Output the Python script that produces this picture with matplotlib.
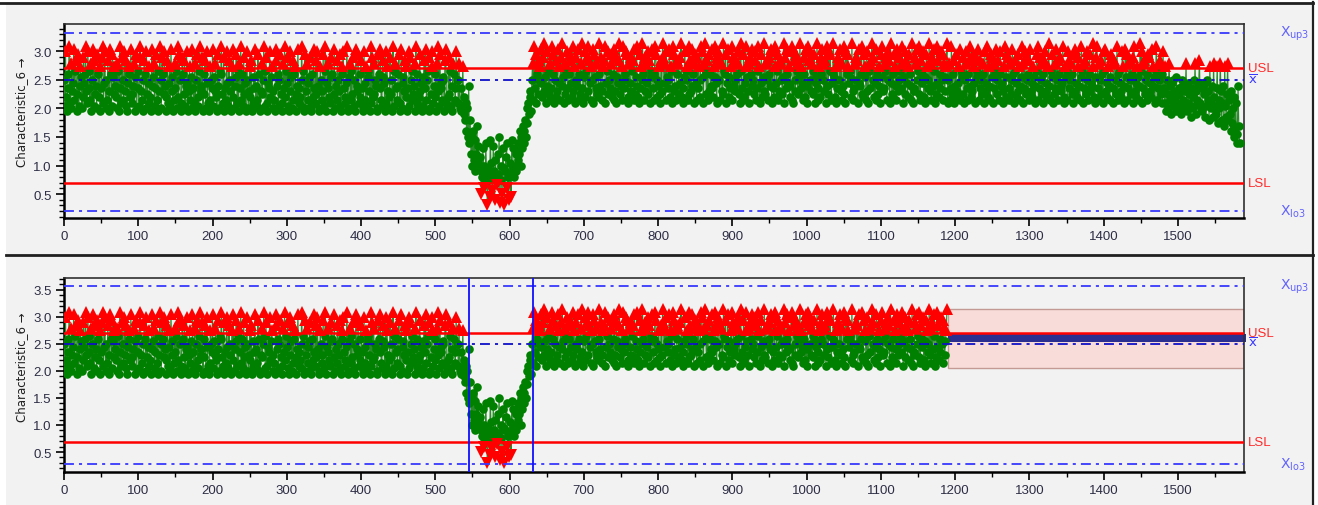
import numpy as np
import matplotlib
matplotlib.use('Agg')
import matplotlib.pyplot as plt
from matplotlib.patches import Rectangle
from matplotlib.lines import Line2D
from matplotlib.ticker import MultipleLocator, FormatStrFormatter
import matplotlib.transforms as mtransforms

# ---------------- data ----------------
# each character is one measured value: value = 0.2 + 0.05 * (position in ALPHABET)
ALPHABET = "0123456789ABCDEFGHIJKLMNOPQRSTUVWXYZabcdefghijklmnopqrstuvwxyz"

seg_stable_1 = (
    "kbueZhmwca" "qgjvdnrfZt" "biplaesjmw" "gcunhdqZkv" "brfiatmepZ"
    "hswcjuakdr" "gZvmbtlfpi" "eqanZwhcsk" "dugrbZjpme" "vfciqZltan"
    "hbwsgdZkrm" "aufjpceZvi" "lqbhtdnZgw" "kasmfuieZr" "cjpbvlgZdq"
    "hnawetkcZs" "mfrbiujZgp" "dlavhcqZkt" "ebnwgisZfm" "raujcZdpkh"
    "vblgqeZtia" "nmwfcsZhdu" "jbrkgZpeva" "iltcnZqhwd" "mbsfjZukag"
    "perZclhvbi" "dtmaZgqfkw" "nbscZjhuel" "pagdZvrimb" "ktfZcqhwen"
    "jsbZgulard" "mpfZivcheb" "wknZtagqjd" "lsbZmevhcr" "fuiZapkdgt"
    "bnwZjqhecl" "smZfvaidrk" "gtbZpmuhce" "jwaZlqdnfs" "kbZvigtcem"
    "rhaZujdpbl" "ngZwcseqfk" "iaZtmhvdbr" "ljZucpgeas" "kfZwnbqhid"
    "mtZcvaljgr" "epZhbusknd" "fiZqwcmaet" "gjZblrhvdk" "nsZafpucie"
    "mZqgwbtjhd" "lkZrvcaesf" "nbZiqmhduk"
)
seg_drop = "kcqaZhbpeY" "WcSaQi"
seg_fall = "OWKQGSIPEKUHNFJ"
seg_bottom = "E6CMG8AOD2" "FB5PHC7NE4" "IC9DKQ3GB6" "MF2EJO8C4H" "D5PMF"
seg_rise = "CGKEMIOKSG" "QMUSOWQaVc" "YegZk"
seg_stable_2 = (
    "qdwhtcmfrk" "pvjesgxlci" "unfqdhwmtc" "kregvpjdsi" "xlcqfnuhdm"
    "trjewgpcks" "ivdmfqxhcl" "uenswgrjdp" "kvctlhqfem" "xisdgprwcj"
    "nufkhtqemd" "vgcsljrxfi" "pdwhkmutce" "qjgsnrdvfl" "wiechtpkxm"
    "dsgqjufrcl" "nvhdmwteki" "pfcrgxsjqd" "ulhkvenpcw" "tgidrmqfjs"
    "xechluknpd" "wfrgivmcqt" "jdshpekwul" "cqxnfrdgtm" "ivheplwjcs"
    "ukdrqgfxnm" "tcjvelhpdw" "sikgrmqufc" "xnhdtejwpl" "gcqsmivkfr"
    "udhwnpcjte" "lgxfqrkdms" "ivcuhepwjn" "tdgrkqflxc" "shmvjpeiuw"
    "dcrkgtnfql" "xhpjdsmevc" "iwrukgqfnt" "cljxdhpesm" "vkgqrcwifu"
    "ntdjmxlepc" "hsrkvgqdiw" "fcumtpjnle" "xgdhqskrcv" "jimwfetlpd"
    "ugcnqhrxks" "ejdvmfpict" "wlghqnsduk" "rcxjfmetpi" "dvgsknhqwc"
    "lufrjeptmd" "ixcghsqvkn" "fwdrjmuelc" "tpkhxgqdsi" "nvcfwjremh"
    "ukdtqglpxc"
)
seg_stable_3 = (
    "kqdhwfmrci" "tegjpvdnls" "fckuqhmdrw" "iegtjpcsnl" "vdhrkfqmcu"
    "gjwepidtls" "chqnvfkrdm" "uijgcpwelt" "shdqfkvmcr" "njegtpdilw"
    "cqhusfkmdr" "vgjeplicnt" "wdhskqfmcr" "ugjepxidnl" "tcfqhvkrdm"
    "sgijwecpln" "duhrkqfmct" "vgjepsidlw" "nchqrfkudm" "tgjipxecls"
    "whdqkrfmcn" "uvgjepidlt" "schrqfkwdm" "njgeupicvl" "tdhqkrfmsc"
    "wgjeplidxn" "uchqrfkdmt" "sgjevpilcn" "wdhqkrfmcu"
)
seg_late = "hcpZkfaqid" "YjbkgeZlcf" "fhaYikdbig" "qZjcfhXhae" "kbqgYdijrc" "aZhifjXbkd"
seg_end = "gWpcaiXqeb" "YhpVdaqgWc" "iUpbXfqWdY" "SgVaQeTcOR" "iUO"

value_code = (seg_stable_1 + seg_drop + seg_fall + seg_bottom + seg_rise +
              seg_stable_2 + seg_stable_3 + seg_late + seg_end)
values = np.array([0.2 + 0.05 * ALPHABET.index(c) for c in value_code])
sample_no = np.arange(len(values))

usl = 2.71
lsl = 0.69
top_limits = {"mean": 2.49, "xup3": 3.32, "xlo3": 0.21}
bottom_limits = {"mean": 2.50, "xup3": 3.57, "xlo3": 0.28}
n_bottom = 1190
phase_marks = [546, 631]
forecast_start = 1190
forecast_band = (2.06, 3.15)
forecast_mean = (2.54, 2.69)

x_max = 1589
top_ylim = (0.08, 3.48)
bottom_ylim = (0.13, 3.72)
x_ticks = list(range(0, 1501, 100))
y_label = "Characteristic_6 \u2192"

# ---------------- figure ----------------
W, H = 1318, 506
plt.rcParams['font.family'] = ['Liberation Sans', 'DejaVu Sans']
fig = plt.figure(figsize=(W / 100, H / 100), dpi=100)
fig.patch.set_facecolor('white')

panel_bg = '#f2f2f2'
bg = Rectangle((6 / W, 0), (1313 - 6) / W, 1 - 3 / H,
               transform=fig.transFigure, facecolor=panel_bg,
               edgecolor='none', zorder=-10)
fig.add_artist(bg)
for xs, ys, lw in [((0, 1313), (3.5, 3.5), 2.0),
                   ((6, 1313), (255.5, 255.5), 2.0),
                   ((1313, 1313), (3, 506), 1.6)]:
    fig.add_artist(Line2D([x / W for x in xs], [1 - y / H for y in ys],
                          transform=fig.transFigure, color='#202020', lw=lw,
                          zorder=-5))

tick_color = '#2d2d45'
limit_blue = '#3838ff'
mean_blue = '#1010c8'
label_blue = '#6262ff'
dash_style = (0, (5.5, 2.8, 1.7, 2.8))


def style_axes(ax, ylim):
    ax.set_facecolor(panel_bg)
    ax.set_xlim(0, x_max)
    ax.set_ylim(*ylim)
    ax.set_xticks(x_ticks)
    ax.xaxis.set_minor_locator(MultipleLocator(50))
    ax.yaxis.set_major_locator(MultipleLocator(0.5))
    ax.yaxis.set_minor_locator(MultipleLocator(0.1))
    ax.yaxis.set_major_formatter(FormatStrFormatter('%.1f'))
    ax.tick_params(which='major', direction='out', length=6, width=1.2,
                   colors='black', labelcolor=tick_color, labelsize=9.5, pad=3)
    ax.tick_params(which='minor', direction='out', length=3.5, width=1.0,
                   colors='black')
    for side in ['left', 'bottom']:
        ax.spines[side].set_linewidth(1.8)
        ax.spines[side].set_color('black')
    for side in ['top', 'right']:
        ax.spines[side].set_linewidth(1.2)
        ax.spines[side].set_color('#303030')


def draw_series(ax, x, y):
    ax.plot(x, y, color='#2a8a2a', lw=0.8, zorder=3)
    inside = (y <= usl) & (y >= lsl)
    above = y > usl
    below = y < lsl
    ax.plot(x[inside], y[inside], 'o', color='#008000', ms=6.2, mew=0, zorder=4)
    ax.plot(x[above], y[above], '^', color='#ff0000', ms=8.6, mew=0, zorder=5)
    ax.plot(x[below], y[below], 'v', color='#ff0000', ms=8.6, mew=0, zorder=5)


def draw_limits(ax, lim):
    ax.axhline(usl, color='#ff0000', lw=1.8, zorder=6)
    ax.axhline(lsl, color='#ff0000', lw=1.8, zorder=6)
    ax.axhline(lim["mean"], color=mean_blue, lw=1.3, ls=dash_style, zorder=6)
    ax.axhline(lim["xup3"], color=limit_blue, lw=1.3, ls=dash_style, zorder=6)
    ax.axhline(lim["xlo3"], color=limit_blue, lw=1.3, ls=dash_style, zorder=6)
    tr = mtransforms.blended_transform_factory(ax.transAxes, ax.transData)
    ax.text(1.0035, usl, 'USL', transform=tr, color='#ff2a2a', fontsize=9.5,
            ha='left', va='center', clip_on=False)
    ax.text(1.0035, lsl, 'LSL', transform=tr, color='#ff2a2a', fontsize=9.5,
            ha='left', va='center', clip_on=False)
    ax.text(1.0035, lim["mean"] + 0.02, r'$\overline{\mathrm{x}}$', transform=tr,
            color=limit_blue, fontsize=9.5, ha='left', va='center', clip_on=False)
    ax.text(1.0305, lim["xup3"], r'$\mathrm{X_{up3}}$', transform=tr,
            color=label_blue, fontsize=10, ha='left', va='center', clip_on=False)
    ax.text(1.0305, lim["xlo3"], r'$\mathrm{X_{lo3}}$', transform=tr,
            color=label_blue, fontsize=10, ha='left', va='center', clip_on=False)


ax1 = fig.add_axes([64 / W, 1 - 219 / H, 1180 / W, 194 / H], zorder=2)
ax2 = fig.add_axes([64 / W, 1 - 473 / H, 1180 / W, 194 / H], zorder=2)

style_axes(ax1, top_ylim)
draw_series(ax1, sample_no, values)
draw_limits(ax1, top_limits)

style_axes(ax2, bottom_ylim)
draw_series(ax2, sample_no[:n_bottom], values[:n_bottom])
ax2.add_patch(Rectangle((forecast_start, forecast_band[0]), x_max - forecast_start,
                        forecast_band[1] - forecast_band[0], facecolor='#f8dcda',
                        edgecolor='#c49a94', lw=1.0, zorder=1))
band = ax2.fill_between([forecast_start, x_max + 3], forecast_mean[0], forecast_mean[1],
                        color='#2b2f8f', lw=0, zorder=2)
band.set_clip_on(False)
draw_limits(ax2, bottom_limits)
for xm in phase_marks:
    ax2.axvline(xm, color='#1010ff', lw=1.3, zorder=7)

for yc in (112, 367):
    fig.text(22 / W, 1 - yc / H, y_label, rotation=90, ha='center', va='center',
             fontsize=8.5, color='#202020', family=['DejaVu Sans'], zorder=3)

fig.savefig('out.png', dpi=100, facecolor='white')
